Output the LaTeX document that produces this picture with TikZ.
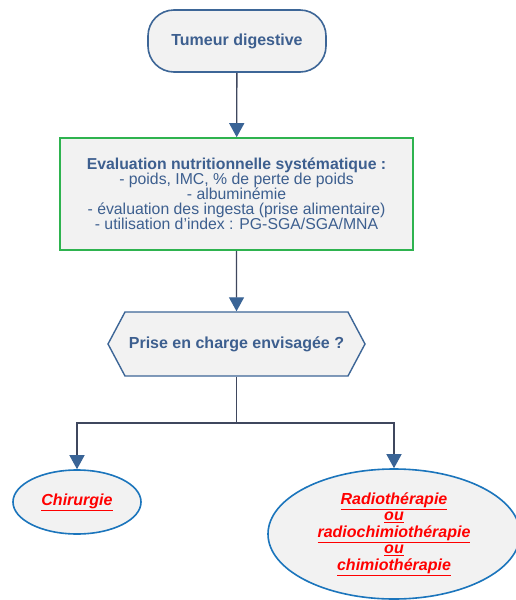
\documentclass[tikz,border=0pt]{standalone}
\usepackage{fontspec}
\setmainfont{Liberation Sans}
\usetikzlibrary{arrows.meta,shapes.geometric,shapes.symbols}
\definecolor{txtblue}{HTML}{3D5F8F}
\definecolor{edgeblue}{HTML}{3D6697}
\definecolor{evalgreen}{HTML}{2EB34F}
\definecolor{boxfill}{HTML}{F2F2F2}
\definecolor{ovalblue}{HTML}{1B75BC}
\definecolor{linkgray}{HTML}{3F475E}
\definecolor{tipblue}{HTML}{3A6496}
\newcommand{\redul}[1]{\underline{#1}}
\begin{document}
\begin{tikzpicture}[x=1pt,y=-1pt,
  startbox/.style={draw=edgeblue,line width=1.6pt,fill=boxfill,rounded corners=26pt,
    minimum width=178pt,minimum height=62pt,inner sep=0pt,
    font=\fontsize{16}{18}\selectfont\bfseries,text=txtblue},
  evalbox/.style={draw=evalgreen,line width=1.6pt,fill=boxfill,
    minimum width=353pt,minimum height=112pt,inner sep=0pt,align=center,
    font=\fontsize{15.8}{15}\selectfont,text=txtblue},
  decision/.style={draw=edgeblue,line width=1.4pt,fill=boxfill,shape=signal,
    signal to=west and east,signal pointer angle=124,
    minimum width=257pt,minimum height=64pt,inner sep=0pt,
    font=\fontsize{16}{18}\selectfont\bfseries,text=txtblue},
  outcome/.style={draw=ovalblue,line width=1.6pt,fill=boxfill,ellipse,inner sep=0pt,
    align=center,font=\fontsize{16}{16.5}\selectfont\bfseries\itshape,text=red},
  link/.style={draw=linkgray,line width=1.3pt,
    -{Triangle[width=15pt,length=14pt,fill=tipblue,color=tipblue]}},
  plainlink/.style={draw=linkgray,line width=1.3pt}]
\useasboundingbox (0,0) rectangle (515,600);
\fill[white] (0,0) rectangle (515,600);

\node[startbox] (tum) at (237,41) {Tumeur digestive};
\node[evalbox] (eval) at (236.5,194) {\textbf{Evaluation nutritionnelle systématique :}\\
  - poids, IMC, \% de perte de poids\\
  - albuminémie\\
  - évaluation des ingesta (prise alimentaire)\\
  - utilisation d'index : PG-SGA/SGA/MNA};
\node[decision] (prise) at (236.5,344) {Prise en charge envisagée ?};
\node[outcome,minimum width=128pt,minimum height=64pt] (chir) at (77,502) {\redul{Chirurgie}};
\node[outcome,minimum width=252pt,minimum height=130pt] (radio) at (394,534)
  {\redul{Radiothérapie}\\ \redul{ou}\\ \redul{radiochimiothérapie}\\ \redul{ou}\\ \redul{chimiothérapie}};
\coordinate (fork) at (236.5,423);

\draw[link] (tum) -- (eval);
\draw[link] (eval) -- (prise);
\draw[plainlink] (prise) -- (fork);
\draw[link] (fork) -| (chir);
\draw[link] (fork) -| (radio);
\end{tikzpicture}
\end{document}
